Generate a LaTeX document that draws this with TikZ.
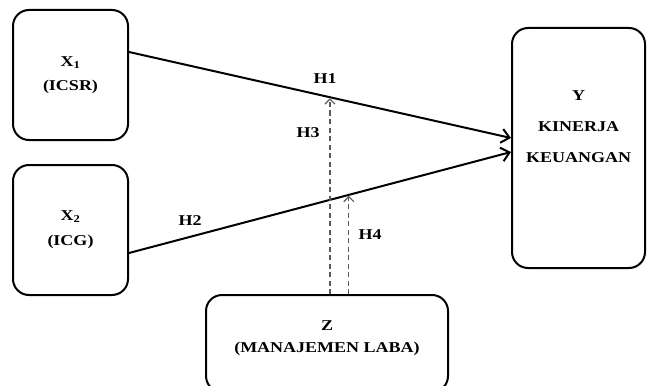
\documentclass[tikz,border=0pt]{standalone}
\usepackage{fontspec}
\setmainfont{Liberation Serif}[FakeStretch=1.2]
\usetikzlibrary{arrows.meta}

\begin{document}
\begin{tikzpicture}[x=1pt, y=-1pt, font=\fontsize{15}{18}\selectfont\bfseries]
    \tikzstyle{vbox}=[draw, line width=2pt, rounded corners=16pt, align=center]
    \tikzstyle{marrs}=[line width=2pt, -{Straight Barb[length=8pt,width=14pt]}]
    \tikzstyle{darrs}=[black!65, line width=1.2pt, dash pattern=on 5pt off 3.5pt, shorten >=1pt, -{Straight Barb[length=5pt,width=10pt]}]
    \tikzstyle{hlab}=[inner sep=0pt]
    
    \useasboundingbox (0,0) rectangle (647,385);
    
    % variables
    \node[vbox, minimum width=115pt, minimum height=130pt] (x1) at (70.5,75) {X\textsubscript{1}\\[6pt](ICSR)};
    \node[vbox, minimum width=115pt, minimum height=130pt] (x2) at (70.5,230) {X\textsubscript{2}\\[7pt](ICG)};
    \node[vbox, minimum width=133pt, minimum height=240pt,
        label={[align=center, yshift=21.5pt]center:Y\\[13pt]KINERJA\\[13pt]KEUANGAN}] (y) at (578.5,148) {};
    \node[vbox, minimum width=242pt, minimum height=97pt,
        label={[align=center, yshift=5.5pt]center:Z\\[4pt](MANAJEMEN LABA)}] (z) at (327,343.5) {};
    
    % paths
    \draw[marrs] ([yshift=23pt]x1.east) -- coordinate[pos=0.526] (m1) ([yshift=10pt]y.west);
    \draw[marrs] ([yshift=-23pt]x2.east) -- coordinate[pos=0.5755] (m2) ([yshift=-4pt]y.west);
    \draw[darrs] (m1 |- z.north) -- (m1);
    \draw[darrs] (m2 |- z.north) -- (m2);
    
    % hypotheses
    \node[hlab] (h1) at (325,78.5) {H1};
    \node[hlab] (h2) at (190,221) {H2};
    \node[hlab] (h3) at (308,132.5) {H3};
    \node[hlab] (h4) at (370,235) {H4};
\end{tikzpicture}
\end{document}
